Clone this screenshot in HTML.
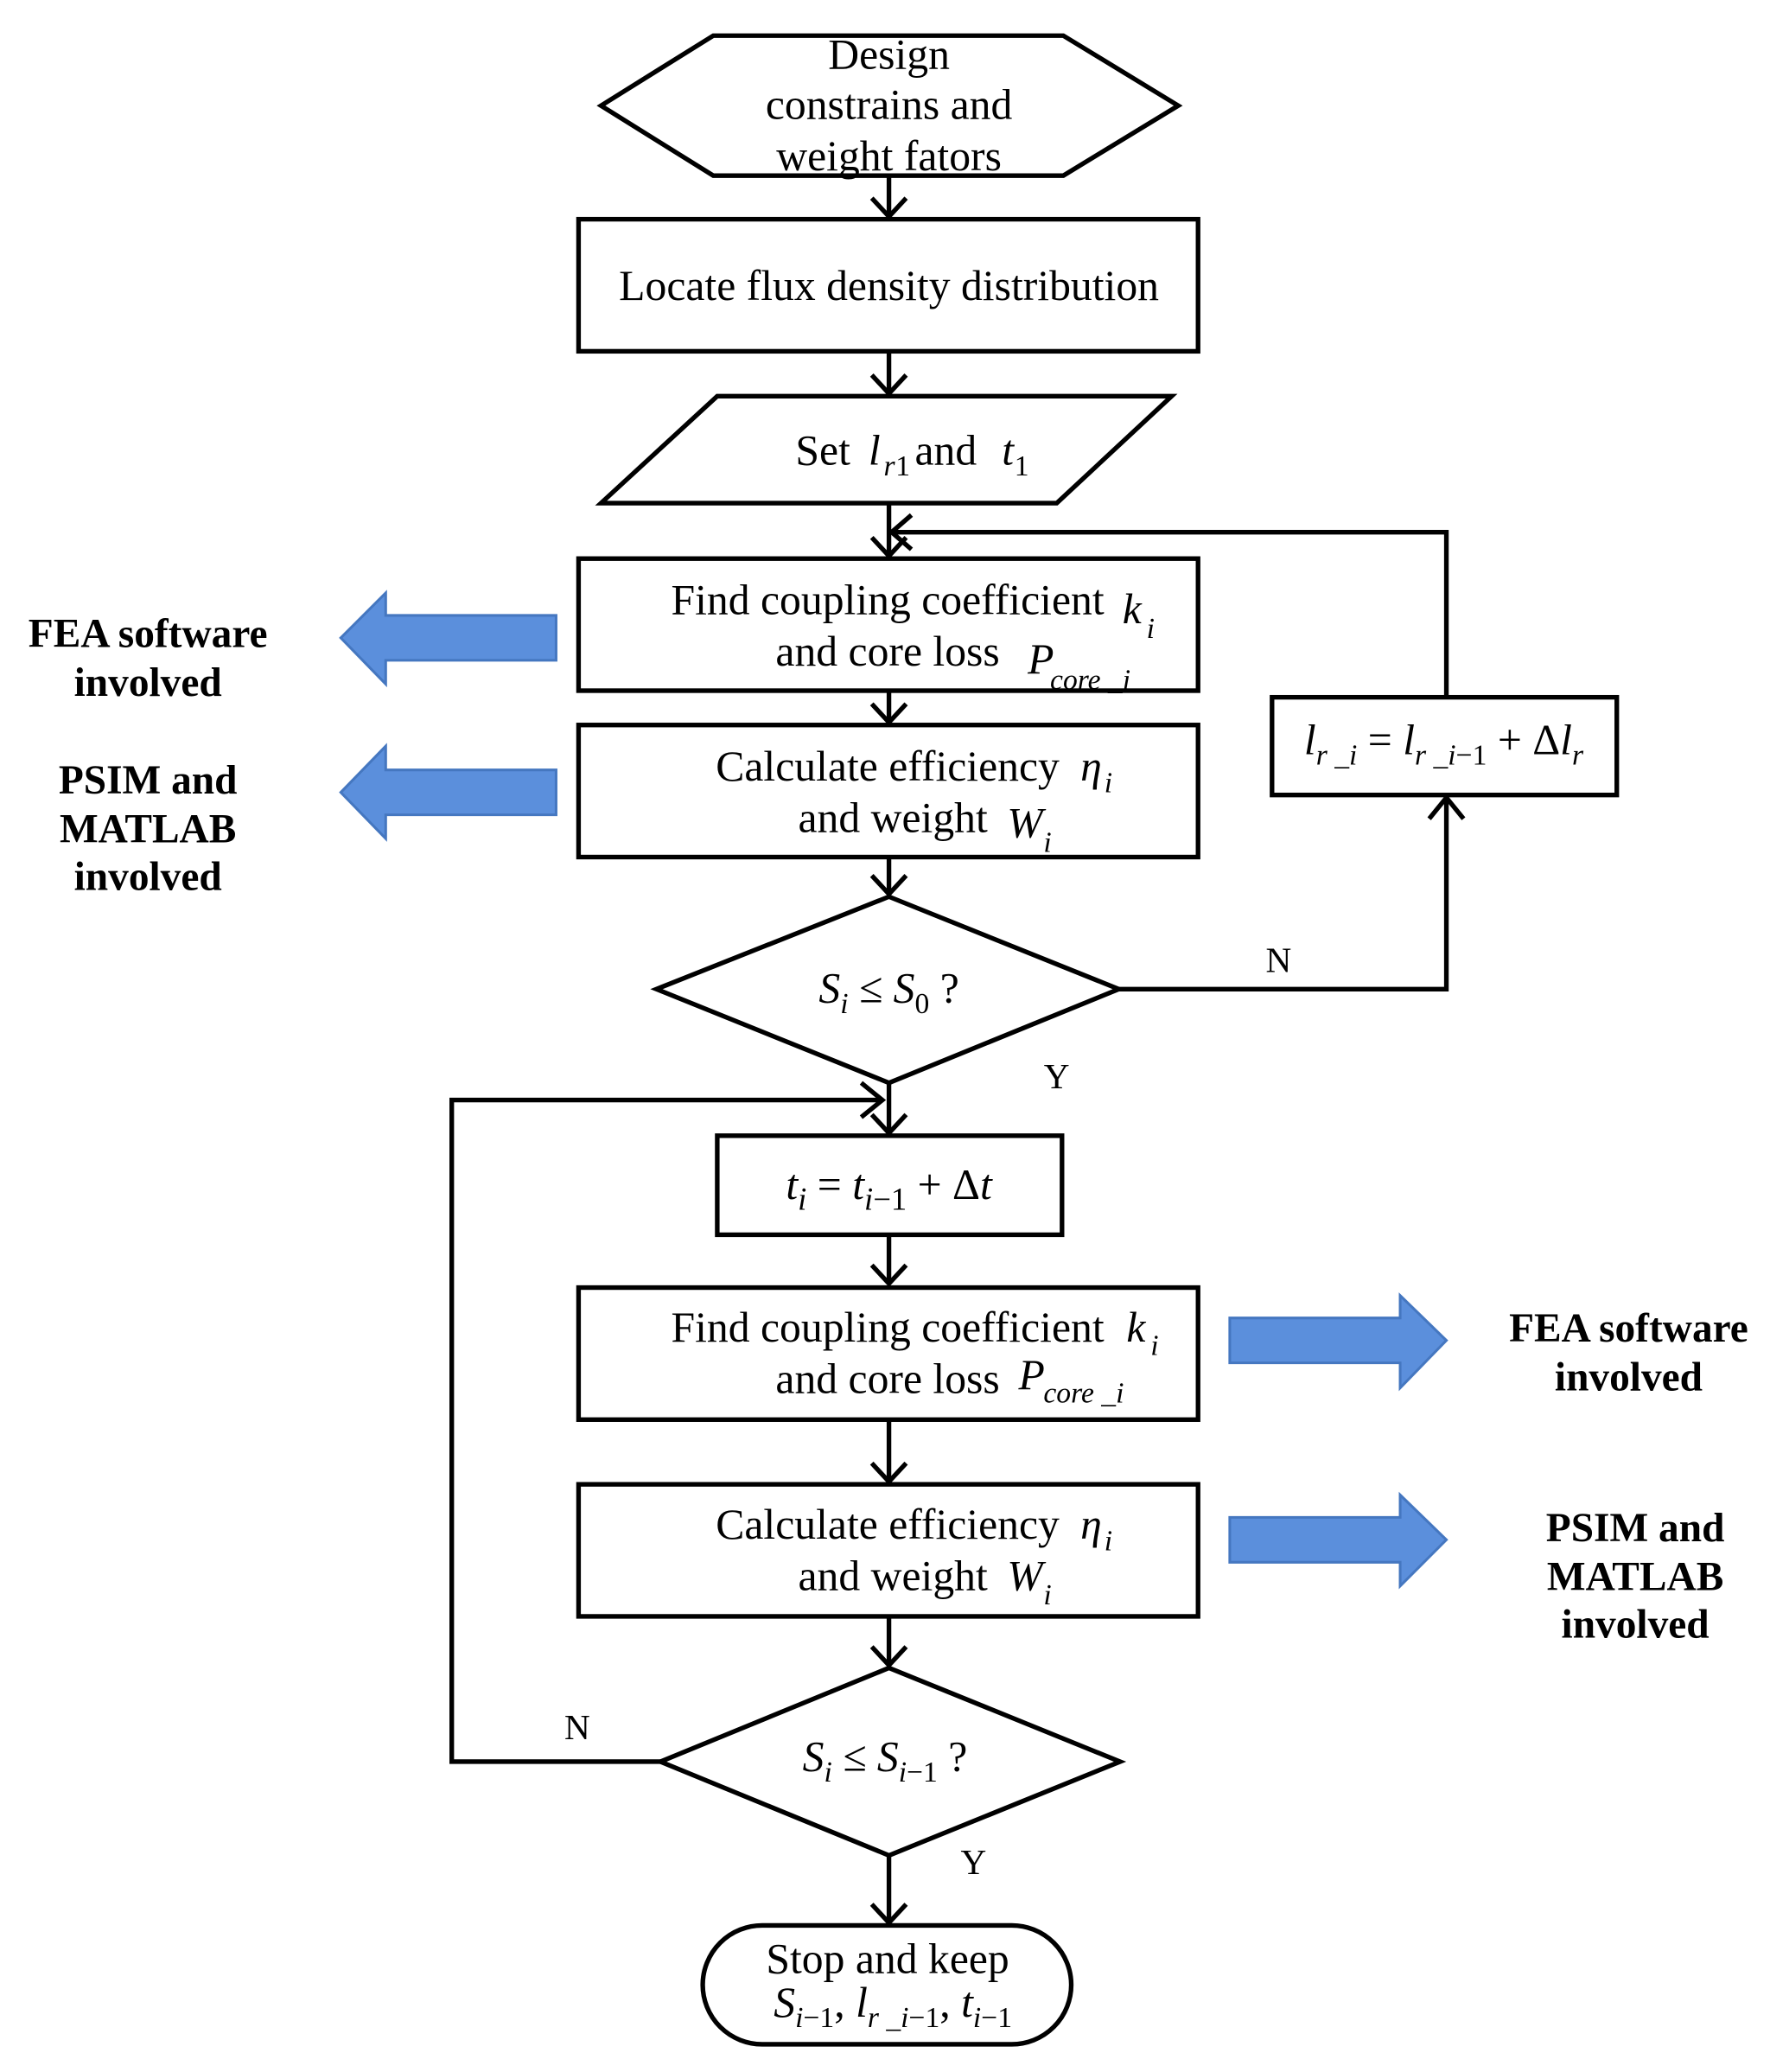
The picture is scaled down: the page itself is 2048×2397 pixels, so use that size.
<!DOCTYPE html>
<html><head><meta charset="utf-8"><style>
html,body{margin:0;padding:0;background:#fff;}
svg{display:block;}
text{font-family:"Liberation Serif",serif;fill:#000;}
.t{font-size:32.5px;text-anchor:middle;}
.b{font-size:31px;font-weight:bold;text-anchor:middle;}
.i{font-style:italic;}
.s{font-size:22px;font-style:italic;}
</style></head><body>
<svg width="2048" height="2397" viewBox="0 0 1340 1569" preserveAspectRatio="none" xmlns="http://www.w3.org/2000/svg">
<g fill="none" stroke="#000" stroke-width="3.5">
<polygon points="455,80 540,27 805,27 892,80 805,133 540,133"/>
<rect x="438" y="166" width="469" height="100"/>
<polygon points="455,381 543,300 887,300 800,381"/>
<rect x="438" y="423" width="469" height="100"/>
<rect x="438" y="549" width="469" height="100"/>
<polygon points="497,749 673,679 847,749 673,820"/>
<rect x="963" y="528" width="261" height="74"/>
<rect x="543" y="860" width="261" height="75"/>
<rect x="438" y="975" width="469" height="100"/>
<rect x="438" y="1124" width="469" height="100"/>
<polygon points="500,1334 673,1263 848,1334 673,1405"/>
<rect x="532" y="1458" width="279" height="90" rx="45"/>
<line x1="673" y1="133" x2="673" y2="164"/><polyline points="660,150 673,164 686,150"/>
<line x1="673" y1="266" x2="673" y2="298"/><polyline points="660,284 673,298 686,284"/>
<line x1="673" y1="381" x2="673" y2="421"/><polyline points="660,407 673,421 686,407"/>
<line x1="673" y1="523" x2="673" y2="547"/><polyline points="660,533 673,547 686,533"/>
<line x1="673" y1="649" x2="673" y2="677"/><polyline points="660,663 673,677 686,663"/>
<line x1="673" y1="820" x2="673" y2="858"/><polyline points="660,844 673,858 686,844"/>
<line x1="673" y1="935" x2="673" y2="972"/><polyline points="660,958 673,972 686,958"/>
<line x1="673" y1="1075" x2="673" y2="1122"/><polyline points="660,1108 673,1122 686,1108"/>
<line x1="673" y1="1224" x2="673" y2="1261"/><polyline points="660,1247 673,1261 686,1247"/>
<line x1="673" y1="1405" x2="673" y2="1456"/><polyline points="660,1442 673,1456 686,1442"/>
<polyline points="1095,528 1095,403 675,403"/><polyline points="690,390 675,403 690,416"/>
<polyline points="847,749 1095,749 1095,604"/><polyline points="1082,620 1095,604 1108,620"/>
<polyline points="500,1334 342,1334 342,833 668,833"/><polyline points="652,820 668,833 652,846"/>
</g>
<g fill="#5b8fdc" stroke="#4577c0" stroke-width="2">
<polygon points="421,466 292,466 292,449 258,483 292,518 292,500 421,500"/>
<polygon points="421,583 292,583 292,565 258,600 292,635 292,617 421,617"/>
<polygon points="931,998 1060,998 1060,981 1095,1015 1060,1051 1060,1032 931,1032"/>
<polygon points="931,1149 1060,1149 1060,1132 1095,1166 1060,1201 1060,1183 931,1183"/>
</g>
<text class="t" x="673" y="52">Design</text>
<text class="t" x="673" y="90">constrains and</text>
<text class="t" x="673" y="129">weight fators</text>
<text class="t" x="673" y="227">Locate flux density distribution</text>
<text class="t" x="623" y="352">Set</text><text class="t i" x="662" y="352">l</text><text class="s" x="669" y="360">r</text><text x="678" y="360" font-size="22">1</text>
<text class="t" x="716" y="352">and</text><text class="t i" x="763" y="352">t</text><text x="768" y="360" font-size="22">1</text>
<text class="t" x="672" y="465">Find coupling coefficient</text><text class="t i" x="857" y="472">k</text><text class="s" x="868" y="483">i</text>
<text class="t" x="672" y="504">and core loss</text><text class="t i" x="788" y="510">P</text><text class="s" x="795" y="522">core _i</text>
<text class="t" x="672" y="591">Calculate efficiency</text><text class="t i" x="826" y="591">η</text><text class="s" x="836" y="600">i</text>
<text class="t" x="676" y="630">and weight</text><text class="t i" x="776" y="634">W</text><text class="s" x="790" y="645">i</text>
<text class="t i" x="673" y="759">S<tspan font-size="22" dy="8">i</tspan><tspan dy="-8"> ≤ S</tspan><tspan font-size="22" dy="8" font-style="normal">0</tspan><tspan dy="-8" font-style="normal"> ?</tspan></text>
<text class="t i" x="1093" y="571">l<tspan font-size="22" dy="8">r _i</tspan><tspan dy="-8" font-style="normal"> = </tspan>l<tspan font-size="22" dy="8">r _i</tspan><tspan font-size="22" font-style="normal">−1</tspan><tspan dy="-8" font-style="normal"> + Δ</tspan>l<tspan font-size="22" dy="8">r</tspan></text>
<text font-size="27" x="968" y="736" text-anchor="middle">N</text>
<text font-size="27" x="800" y="824" text-anchor="middle">Y</text>
<text class="t i" x="673" y="908" font-size="36">t<tspan font-size="24" dy="8">i</tspan><tspan dy="-8" font-style="normal"> = </tspan>t<tspan font-size="24" dy="8">i</tspan><tspan font-size="24" font-style="normal">−1</tspan><tspan dy="-8" font-style="normal"> + Δ</tspan>t</text>
<text class="t" x="672" y="1016">Find coupling coefficient</text><text class="t i" x="860" y="1016">k</text><text class="s" x="871" y="1026">i</text>
<text class="t" x="672" y="1055">and core loss</text><text class="t i" x="781" y="1052">P</text><text class="s" x="790" y="1062">core _i</text>
<text class="t" x="672" y="1165">Calculate efficiency</text><text class="t i" x="826" y="1165">η</text><text class="s" x="836" y="1174">i</text>
<text class="t" x="676" y="1204">and weight</text><text class="t i" x="776" y="1204">W</text><text class="s" x="790" y="1215">i</text>
<text class="t i" x="670" y="1341">S<tspan font-size="22" dy="8">i</tspan><tspan dy="-8"> ≤ S</tspan><tspan font-size="22" dy="8">i</tspan><tspan font-size="22" font-style="normal">−1</tspan><tspan dy="-8" font-style="normal"> ?</tspan></text>
<text font-size="27" x="437" y="1317" text-anchor="middle">N</text>
<text font-size="27" x="737" y="1419" text-anchor="middle">Y</text>
<text class="t" x="672" y="1494">Stop and keep</text>
<text class="t i" x="676" y="1527">S<tspan font-size="22" dy="8">i</tspan><tspan font-size="22" font-style="normal">−1</tspan><tspan dy="-8" font-style="normal">, </tspan>l<tspan font-size="22" dy="8">r _i</tspan><tspan font-size="22" font-style="normal">−1</tspan><tspan dy="-8" font-style="normal">, </tspan>t<tspan font-size="22" dy="8">i</tspan><tspan font-size="22" font-style="normal">−1</tspan></text>
<text class="b" x="112" y="490">FEA software</text>
<text class="b" x="112" y="527">involved</text>
<text class="b" x="112" y="601">PSIM and</text>
<text class="b" x="112" y="638">MATLAB</text>
<text class="b" x="112" y="674">involved</text>
<text class="b" x="1233" y="1016">FEA software</text>
<text class="b" x="1233" y="1053">involved</text>
<text class="b" x="1238" y="1167">PSIM and</text>
<text class="b" x="1238" y="1204">MATLAB</text>
<text class="b" x="1238" y="1240">involved</text>
</svg>
</body></html>
